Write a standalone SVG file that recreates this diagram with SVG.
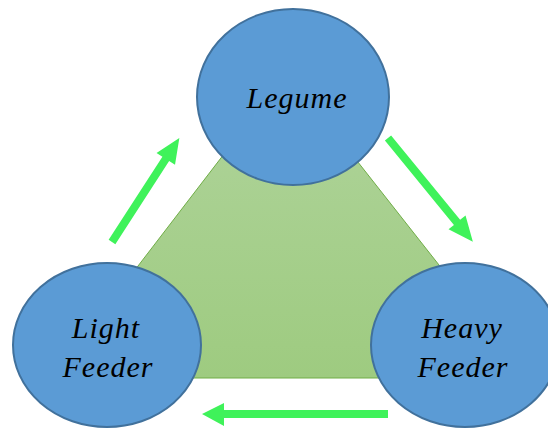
<svg xmlns="http://www.w3.org/2000/svg" width="548" height="428" viewBox="0 0 548 428">
  <style>
    .node { fill: #5b9bd5; stroke: #41719c; stroke-width: 2; }
    .label { font-family: "Liberation Serif", "Times New Roman", serif; font-style: italic; font-size: 30px; letter-spacing: 1px; fill: #000; text-anchor: middle; }
    .arrow { fill: #3ff25a; }
  </style>
  <defs>
    <linearGradient id="triFill" x1="0" y1="0" x2="0" y2="1">
      <stop offset="0" stop-color="#b0d49c"/>
      <stop offset="1" stop-color="#9ecb80"/>
    </linearGradient>
  </defs>
  <rect width="548" height="428" fill="#ffffff"/>

  <!-- background triangle -->
  <polygon points="287,72 52,378 528,378" fill="url(#triFill)" stroke="#70ad47" stroke-width="1"/>

  <!-- cycle arrows -->
  <g id="connectors">
    <polygon class="arrow" transform="translate(112,242) rotate(-57.1)" points="0,-4 99,-4 99,-11 124,0 99,11 99,4 0,4"/>
    <polygon class="arrow" transform="translate(388,138) rotate(50.7)" points="0,-4 109,-4 109,-11 134,0 109,11 109,4 0,4"/>
    <polygon class="arrow" points="388,410 224,410 224,403 202,414 224,426 224,418 388,418"/>
  </g>

  <g id="legume">
    <ellipse class="node" cx="293" cy="97" rx="96" ry="88"/>
    <text class="label" x="297" y="108">Legume</text>
  </g>

  <g id="light-feeder">
    <ellipse class="node" cx="107" cy="345" rx="94" ry="82"/>
    <text class="label" x="106" y="338">Light</text>
    <text class="label" x="108" y="377">Feeder</text>
  </g>

  <g id="heavy-feeder">
    <ellipse class="node" cx="465" cy="345" rx="94" ry="82"/>
    <text class="label" x="462" y="338">Heavy</text>
    <text class="label" x="463" y="377">Feeder</text>
  </g>
</svg>
